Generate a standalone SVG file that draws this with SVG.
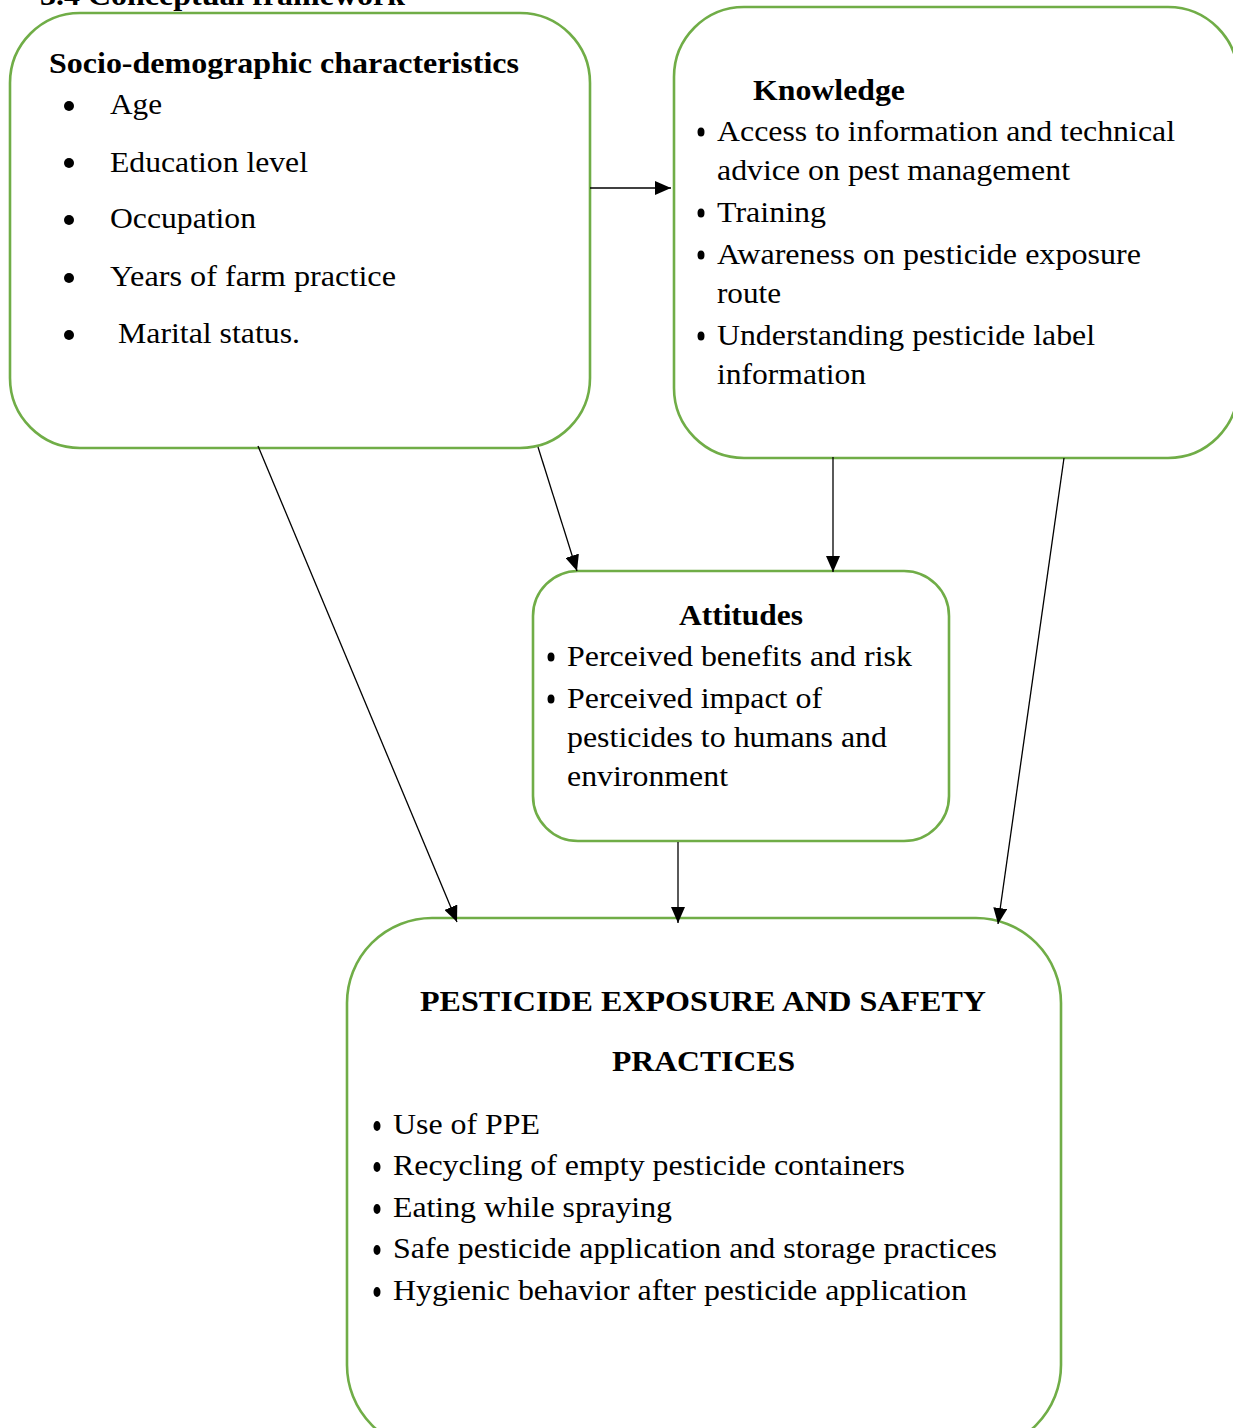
<svg xmlns="http://www.w3.org/2000/svg" width="1233" height="1428" viewBox="0 0 1233 1428">
<style>
.box{fill:#fff;stroke:#70AD47;stroke-width:2.6}
.t{font-family:'Liberation Serif','Times New Roman',Tinos,Times,serif;font-size:29px;fill:#000}
.b{font-weight:bold}
.big{fill:#000}
.sm{fill:#000}
.c line{stroke:#000;stroke-width:1.3;marker-end:url(#ah)}
</style>
<defs>
<marker id="ah" markerUnits="userSpaceOnUse" markerWidth="16" markerHeight="14" refX="16" refY="7" orient="auto">
<path d="M0,0 L16,7 L0,14 z" fill="#000"/>
</marker>
</defs>
<rect width="1233" height="1428" fill="#fff"/>
<text class="t b" x="40" y="5" textLength="365" lengthAdjust="spacingAndGlyphs">3.4 Conceptual framework</text>

<g id="socio">
<rect class="box" x="10" y="13" width="580" height="435" rx="70" ry="70"/>
<text class="t b" x="49" y="73" textLength="470" lengthAdjust="spacingAndGlyphs">Socio-demographic characteristics</text>
<circle class="big" cx="69" cy="106" r="5"/>
<circle class="big" cx="69" cy="163" r="5"/>
<circle class="big" cx="69" cy="220" r="5"/>
<circle class="big" cx="69" cy="278" r="5"/>
<circle class="big" cx="69" cy="335" r="5"/>
<text class="t" x="110" y="114" textLength="52" lengthAdjust="spacingAndGlyphs">Age</text>
<text class="t" x="110" y="172" textLength="198" lengthAdjust="spacingAndGlyphs">Education level</text>
<text class="t" x="110" y="228" textLength="146" lengthAdjust="spacingAndGlyphs">Occupation</text>
<text class="t" x="110" y="286" textLength="286" lengthAdjust="spacingAndGlyphs">Years of farm practice</text>
<text class="t" x="118" y="343" textLength="182" lengthAdjust="spacingAndGlyphs">Marital status.</text>
</g>

<g id="knowledge">
<rect class="box" x="674" y="7" width="564" height="451" rx="70" ry="70"/>
<text class="t b" x="753" y="100" textLength="152" lengthAdjust="spacingAndGlyphs">Knowledge</text>
<ellipse class="sm" cx="701" cy="132" rx="3.5" ry="4.5"/>
<ellipse class="sm" cx="701" cy="213" rx="3.5" ry="4.5"/>
<ellipse class="sm" cx="701" cy="255" rx="3.5" ry="4.5"/>
<ellipse class="sm" cx="701" cy="336" rx="3.5" ry="4.5"/>
<text class="t" x="717" y="141" textLength="458" lengthAdjust="spacingAndGlyphs">Access to information and technical</text>
<text class="t" x="717" y="180" textLength="353" lengthAdjust="spacingAndGlyphs">advice on pest management</text>
<text class="t" x="717" y="222" textLength="109" lengthAdjust="spacingAndGlyphs">Training</text>
<text class="t" x="717" y="264" textLength="424" lengthAdjust="spacingAndGlyphs">Awareness on pesticide exposure</text>
<text class="t" x="717" y="303" textLength="64" lengthAdjust="spacingAndGlyphs">route</text>
<text class="t" x="717" y="345" textLength="378" lengthAdjust="spacingAndGlyphs">Understanding pesticide label</text>
<text class="t" x="717" y="384" textLength="149" lengthAdjust="spacingAndGlyphs">information</text>
</g>

<g id="attitudes">
<rect class="box" x="533" y="571" width="416" height="270" rx="45" ry="45"/>
<text class="t b" x="679" y="625" textLength="124" lengthAdjust="spacingAndGlyphs">Attitudes</text>
<ellipse class="sm" cx="551" cy="657" rx="3.5" ry="4.5"/>
<ellipse class="sm" cx="551" cy="699" rx="3.5" ry="4.5"/>
<text class="t" x="567" y="666" textLength="345" lengthAdjust="spacingAndGlyphs">Perceived benefits and risk</text>
<text class="t" x="567" y="708" textLength="255" lengthAdjust="spacingAndGlyphs">Perceived impact of</text>
<text class="t" x="567" y="747" textLength="320" lengthAdjust="spacingAndGlyphs">pesticides to humans and</text>
<text class="t" x="567" y="786" textLength="161" lengthAdjust="spacingAndGlyphs">environment</text>
</g>

<g id="practices">
<rect class="box" x="347" y="918" width="714" height="532" rx="85" ry="85"/>
<text class="t b" x="420" y="1011" textLength="566" lengthAdjust="spacingAndGlyphs">PESTICIDE EXPOSURE AND SAFETY</text>
<text class="t b" x="612" y="1071" textLength="183" lengthAdjust="spacingAndGlyphs">PRACTICES</text>
<ellipse class="sm" cx="377" cy="1126" rx="3.5" ry="5"/>
<ellipse class="sm" cx="377" cy="1167" rx="3.5" ry="5"/>
<ellipse class="sm" cx="377" cy="1209" rx="3.5" ry="5"/>
<ellipse class="sm" cx="377" cy="1250" rx="3.5" ry="5"/>
<ellipse class="sm" cx="377" cy="1292" rx="3.5" ry="5"/>
<text class="t" x="393" y="1134" textLength="147" lengthAdjust="spacingAndGlyphs">Use of PPE</text>
<text class="t" x="393" y="1175" textLength="512" lengthAdjust="spacingAndGlyphs">Recycling of empty pesticide containers</text>
<text class="t" x="393" y="1217" textLength="279" lengthAdjust="spacingAndGlyphs">Eating while spraying</text>
<text class="t" x="393" y="1258" textLength="604" lengthAdjust="spacingAndGlyphs">Safe pesticide application and storage practices</text>
<text class="t" x="393" y="1300" textLength="574" lengthAdjust="spacingAndGlyphs">Hygienic behavior after pesticide application</text>
</g>

<g id="connectors" class="c">
<line x1="590" y1="188" x2="671" y2="188"/>
<line x1="258" y1="446" x2="457" y2="922"/>
<line x1="538" y1="447" x2="577" y2="571"/>
<line x1="833" y1="457" x2="833" y2="572"/>
<line x1="1064" y1="458" x2="998" y2="924"/>
<line x1="678" y1="842" x2="678" y2="923"/>
</g>
</svg>
